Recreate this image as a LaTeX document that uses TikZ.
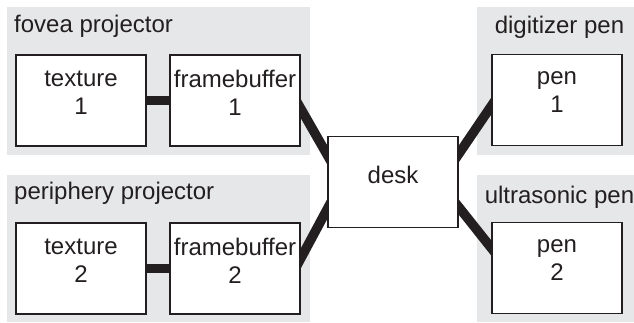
\documentclass[tikz,border=0pt]{standalone}
\usepackage{fontspec}
\setmainfont{Liberation Sans}
\usetikzlibrary{calc,backgrounds}
\definecolor{ink}{HTML}{231F20}
\definecolor{panel}{HTML}{E6E7E8}
\begin{document}
\begin{tikzpicture}[x=1pt,y=-1pt,
  box/.style={draw=ink, fill=white, line width=1.4pt, minimum width=130pt,
    minimum height=91pt, inner sep=0pt, align=center, text=ink,
    font=\fontsize{24}{28}\selectfont,
    execute at end node={\rule[-15pt]{0pt}{0pt}}},
  title/.style={text=ink, font=\fontsize{24}{28}\selectfont, inner sep=0pt},
  link/.style={draw=ink, line width=9.5pt},
  panelbg/.style={fill=panel}]
\useasboundingbox (0,0) rectangle (634,322);

% boxes
\node[box] (t1) at (81,100.5) {texture\\1};
\node[box] (f1) at (235,100.5) {framebuffer\\1};
\node[box] (t2) at (81,268.5) {texture\\2};
\node[box] (f2) at (235,268.5) {framebuffer\\2};
\node[box] (desk) at (393,182) {desk};
\node[box] (p1) at (557,100) {pen\\1};
\node[box] (p2) at (557,268) {pen\\2};

% titles
\node[title, anchor=base west] (tfovea) at (14,32) {fovea projector};
\node[title, anchor=base west] (tperi) at (14,199) {periphery projector};
\node[title, anchor=base] (tdig) at (559.5,33) {digitizer pen};
\node[title, anchor=base] (tultra) at (559.5,203) {ultrasonic pen};

\begin{pgfonlayer}{background}
  \fill[panelbg] (7,7) rectangle (310,155);
  \fill[panelbg] (7,175) rectangle (310,322);
  \fill[panelbg] (477,7) rectangle (634,155);
  \fill[panelbg] (477,175) rectangle (634,322);

  \draw[link, line width=9pt] (t1) -- (f1);
  \draw[link, line width=9pt] (t2) -- (f2);

  \draw[link, shorten <=-10pt, shorten >=-10pt]
    ($(f1.east)+(0,8)$) -- ($(desk.west)+(0,-27)$);
  \draw[link, shorten <=-10pt, shorten >=-10pt]
    ($(f2.east)+(0,-10)$) -- ($(desk.west)+(0,27)$);
  \draw[link, shorten <=-10pt, shorten >=-10pt]
    ($(p1.west)+(0,6)$) -- ($(desk.east)+(0,-28)$);
  \draw[link, shorten <=-10pt, shorten >=-10pt]
    ($(p2.west)+(0,-20)$) -- ($(desk.east)+(0,25)$);
\end{pgfonlayer}
\end{tikzpicture}
\end{document}
